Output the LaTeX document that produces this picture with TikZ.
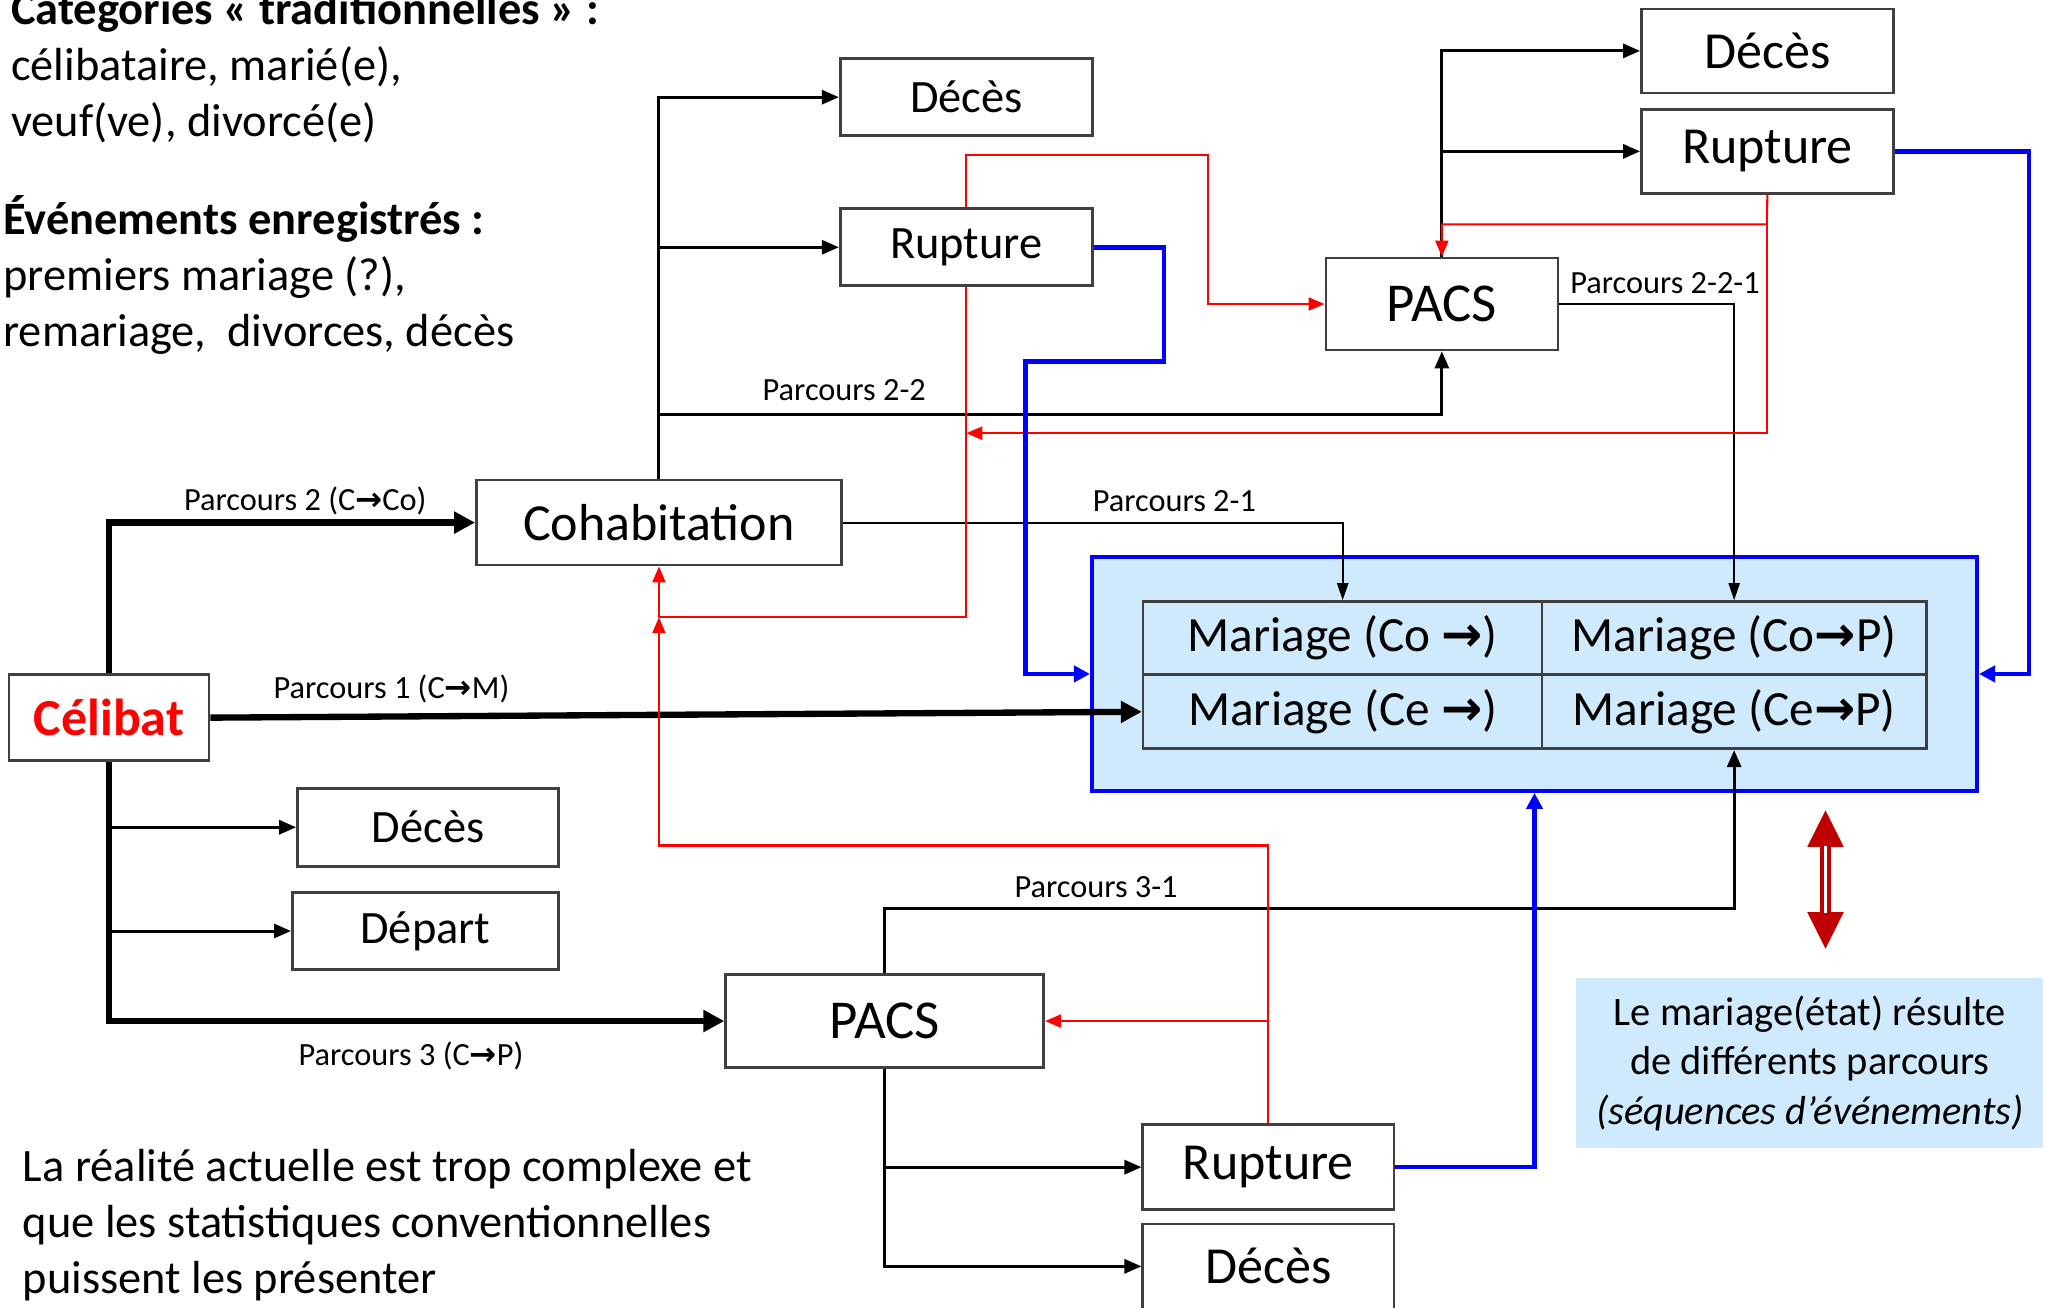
\documentclass[tikz,border=0pt]{standalone}
\usepackage{fontspec}
\setmainfont{Carlito}
\newfontfamily\arrowfont{DejaVu Sans}
\usetikzlibrary{positioning,calc,arrows.meta}

\definecolor{boxgray}{RGB}{64,64,64}
\definecolor{lightblue}{RGB}{207,234,252}
\definecolor{darkred}{RGB}{192,0,0}

\newcommand{\fl}{{\arrowfont\bfseries →}}
\newcommand{\fsmall}{\fontsize{9.2}{11}\selectfont}
\newcommand{\fnormal}{\fontsize{13.2}{16}\selectfont}
\newcommand{\flarge}{\fontsize{14.8}{18}\selectfont}
\newcommand{\fmar}{\fontsize{14}{17}\selectfont}
\newcommand{\fpacs}{\fontsize{15.6}{19}\selectfont}
\newcommand{\finfo}{\fontsize{11.5}{14.1}\selectfont}

\tikzstyle{block} = [draw=boxgray, line width=0.75pt, fill=white, rectangle, inner sep=0pt]
\tikzstyle{cell} = [draw=boxgray, line width=0.75pt, fill=lightblue, rectangle, inner sep=0pt, font=\fmar]
\tikzstyle{plabel} = [font=\fsmall, inner sep=0pt]
\tikzstyle{mainline} = [draw, line width=1.8pt, -{Triangle[length=2.1mm,width=2.1mm]}]
\tikzstyle{subline} = [draw, line width=0.85pt, -{Triangle[length=1.7mm,width=1.4mm]}]
\tikzstyle{thinline} = [draw, line width=0.6pt, -{Triangle[length=1.7mm,width=1.1mm]}]
\tikzstyle{redline} = [draw=red, line width=0.6pt, -{Triangle[length=1.6mm,width=1.3mm]}]
\tikzstyle{blueline} = [draw=blue, line width=1.3pt, -{Triangle[length=1.6mm,width=1.6mm]}]

\begin{document}
\begin{tikzpicture}[auto, x=0.013048cm, y=-0.013048cm]
    \useasboundingbox (0,0) rectangle (1568,1002);

    \node [anchor=north west, align=left, inner sep=0pt, font=\fnormal] (categ) at (8,-7) {\textbf{Catégories « traditionnelles » :}\\célibataire, marié(e),\\veuf(ve), divorcé(e)};
    \node [anchor=north west, align=left, inner sep=0pt, font=\fnormal] (evts) at (2,149) {\textbf{Événements enregistrés :}\\premiers mariage (?),\\remariage,\ \ divorces, décès};
    \node [anchor=north west, align=left, inner sep=0pt, font=\fnormal] (realite) at (17,880) {La réalité actuelle est trop complexe et\\que les statistiques conventionnelles\\puissent les présenter};

    \node [block, minimum width=2.00cm, minimum height=0.86cm, font=\flarge\bfseries, text=red] (celib) at (83.5,550) {Célibat};
    \node [block, minimum width=3.65cm, minimum height=0.85cm, font=\flarge] (cohab) at (505,400.5) {Cohabitation};
    \node [block, minimum width=2.52cm, minimum height=0.77cm, font=\fnormal] (deces1) at (740.5,74.5) {Décès};
    \node [block, minimum width=2.52cm, minimum height=0.77cm, font=\fnormal] (rupt1) at (740.5,189.5) {Rupture};
    \node [block, minimum width=2.32cm, minimum height=0.92cm, font=\fpacs] (pacs1) at (1105,233) {PACS};
    \node [block, minimum width=2.52cm, minimum height=0.84cm, font=\flarge] (deces2) at (1354.5,39) {Décès};
    \node [block, minimum width=2.52cm, minimum height=0.84cm, font=\flarge] (rupt2) at (1354.5,116) {Rupture};
    \node [block, minimum width=2.61cm, minimum height=0.78cm, font=\fnormal] (deces3) at (328,634) {Décès};
    \node [block, minimum width=2.66cm, minimum height=0.77cm, font=\fnormal] (depart) at (326,713.5) {Départ};
    \node [block, minimum width=3.18cm, minimum height=0.93cm, font=\fpacs] (pacs2) at (678,782.5) {PACS};
    \node [block, minimum width=2.51cm, minimum height=0.85cm, font=\flarge] (rupt3) at (972,894.5) {Rupture};
    \node [block, minimum width=2.51cm, minimum height=0.85cm, font=\flarge] (deces4) at (972,970.5) {Décès};

    \node [draw=blue, line width=1.1pt, fill=lightblue, minimum width=8.85cm, minimum height=2.34cm, inner sep=0pt] (mbox) at (1176,516.5) {};
    \node [cell, minimum width=3.99cm, minimum height=0.73cm] (m1) at (1029,489) {Mariage (Co \fl)};
    \node [cell, minimum width=3.84cm, minimum height=0.73cm] (m2) at (1329,489) {Mariage (Co\fl P)};
    \node [cell, minimum width=3.99cm, minimum height=0.74cm] (m3) at (1029,545.5) {Mariage (Ce \fl)};
    \node [cell, minimum width=3.84cm, minimum height=0.74cm] (m4) at (1329,545.5) {Mariage (Ce\fl P)};

    \node [fill=lightblue, minimum width=4.67cm, minimum height=1.70cm, align=center, inner sep=0pt, font=\finfo] (info) at (1387,815) {Le mariage(état) résulte\\de différents parcours\\\textit{(séquences d’événements)}};

    \node [plabel] (l2) at (234,384) {Parcours 2 (C\fl Co)};
    \node [plabel] (l1) at (300,528) {Parcours 1 (C\fl M)};
    \node [plabel] (l3) at (315,809) {Parcours 3 (C\fl P)};
    \node [plabel] (l22) at (647,299) {Parcours 2-2};
    \node [plabel] (l21) at (900,384) {Parcours 2-1};
    \node [plabel] (l221) at (1276,217) {Parcours 2-2-1};
    \node [plabel] (l31) at (840,680) {Parcours 3-1};

    \coordinate (k22) at (505,318);
    \coordinate (k31) at (678,696);
    \coordinate (r1) at (926,119);
    \coordinate (r2) at (505,473);
    \coordinate (r3) at (1354,172);
    \coordinate (r4) at (1354,332);
    \coordinate (r5) at (505,648);
    \coordinate (b1) at (892,277);
    \coordinate (b2) at (786,277);
    \coordinate (b3) at (1555,516.5);

    \draw[mainline] (celib.north) |- (cohab.west);
    \draw[mainline] (celib.east) -- (m3.west);
    \draw[mainline] (celib.south) |- (pacs2.west);
    \draw[subline] (celib.south |- deces3.west) -- (deces3.west);
    \draw[subline] (celib.south |- depart.west) -- (depart.west);

    \draw[subline] (cohab.north) |- (deces1.west);
    \draw[subline] (cohab.north |- rupt1.west) -- (rupt1.west);
    \draw[subline] (k22) -| (pacs1.south);
    \draw[thinline] (cohab.east) -| (m1.north);

    \draw[subline] (pacs1.north) |- (deces2.west);
    \draw[subline] (pacs1.north |- rupt2.west) -- (rupt2.west);
    \draw[thinline] (pacs1.east) -| (m2.north);

    \draw[subline] (pacs2.north) -- (k31) -| (m4.south);
    \draw[subline] (pacs2.south) |- (deces4.west);
    \draw[subline] (pacs2.south |- rupt3.west) -- (rupt3.west);

    \draw[redline] (rupt1.north) |- (r1) |- (pacs1.west);
    \draw[redline] (rupt1.south) |- (r2) -- (cohab.south);
    \draw[redline] (rupt2.south) -- (r3) -| (pacs1.north);
    \draw[redline] (r3) -- (r4) -- (rupt1.south |- r4);
    \draw[redline] (rupt3.north) |- (r5) -- (r2);
    \draw[redline] (rupt3.north |- pacs2.east) -- (pacs2.east);

    \draw[blueline] (rupt1.east) -| (b1) -- (b2) |- (mbox.west);
    \draw[blueline] (rupt2.east) -| (b3) -- (mbox.east);
    \draw[blueline] (rupt3.east) -| (mbox.south);

    \fill[darkred] (1399,621) -- (1413,649) -- (1385,649) -- cycle;
    \fill[darkred] (1399,727) -- (1413,699) -- (1385,699) -- cycle;
    \draw[darkred, line width=1.1pt, double=white, double distance=1.1pt] (1399,648) -- (1399,700);
\end{tikzpicture}
\end{document}
